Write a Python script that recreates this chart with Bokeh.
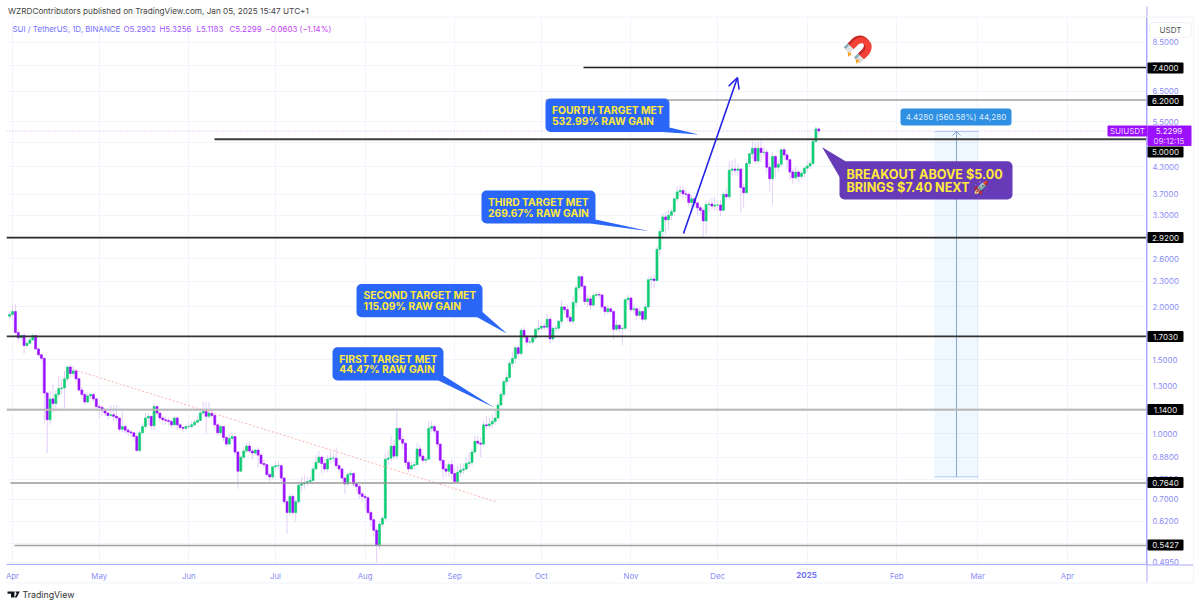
from math import exp, log
from bokeh.plotting import figure
from bokeh.layouts import column
from bokeh.embed import file_html
from bokeh.resources import INLINE
from bokeh.models import (ColumnDataSource, FixedTicker, NumeralTickFormatter, Label, BoxAnnotation,
                          PolyAnnotation, Range1d, Arrow, OpenHead)

month_ticks = [0, 30, 61, 91, 122, 153, 183, 214, 244, 275, 306, 334, 365]
month_labels = ["Apr", "May", "Jun", "Jul", "Aug", "Sep", "Oct", "Nov", "Dec", "2025", "Feb", "Mar", "Apr"]
price_ticks = [8.5, 7.5, 6.5, 5.5, 4.9, 4.3, 3.7, 3.3, 2.9, 2.6, 2.3, 2.0, 1.7, 1.5, 1.3, 1.15, 1.0, 0.88, 0.78, 0.7, 0.62, 0.55, 0.495]

first_open = 1.90
closes = [1.92,1.95,1.74,1.69,1.71,1.62,1.64,1.67,1.71,1.59,1.54,1.51,1.25,1.08,1.21,1.18,1.24,1.28,1.285,1.35,
 1.44,1.39,1.41,1.35,1.27,1.24,1.19,1.23,1.24,1.21,1.16,1.155,1.135,1.12,1.105,1.11,1.10,1.09,1.025,1.04,
 1.02,1.01,1.005,0.985,0.913,1.005,1.04,1.09,1.10,1.045,1.16,1.12,1.09,1.08,1.075,1.07,1.05,1.09,1.05,1.035,
 1.03,1.04,1.04,1.05,1.065,1.075,1.12,1.13,1.10,1.12,1.105,1.05,1.005,1.04,0.98,0.945,0.975,0.985,0.905,0.815,
 0.88,0.91,0.935,0.91,0.90,0.915,0.89,0.85,0.845,0.80,0.79,0.835,0.84,0.84,0.785,0.69,0.65,0.71,0.65,0.69,
 0.755,0.76,0.765,0.77,0.775,0.825,0.855,0.88,0.85,0.825,0.87,0.875,0.875,0.84,0.825,0.785,0.76,0.80,0.805,0.76,
 0.75,0.72,0.71,0.705,0.65,0.625,0.59,0.545,0.61,0.63,0.87,0.875,0.935,0.885,1.03,0.97,0.95,0.855,0.825,0.84,
 0.845,0.92,0.885,0.865,0.87,1.03,1.04,1.015,0.945,0.865,0.825,0.815,0.845,0.805,0.77,0.81,0.82,0.825,0.85,0.855,
 0.905,0.96,0.95,0.945,1.05,1.045,1.055,1.07,1.09,1.17,1.24,1.33,1.36,1.47,1.51,1.60,1.55,1.76,1.70,1.65,
 1.65,1.69,1.77,1.78,1.80,1.79,1.87,1.68,1.78,1.78,1.85,2.00,1.97,1.89,1.85,2.05,2.22,2.36,2.24,2.06,
 2.09,2.02,2.13,2.14,2.135,2.00,1.95,1.98,1.95,1.77,1.81,1.775,1.78,2.08,2.10,1.97,1.98,1.91,1.95,1.87,
 2.00,2.32,2.33,2.31,2.74,3.02,3.27,3.22,3.30,3.37,3.61,3.75,3.78,3.71,3.70,3.54,3.61,3.53,3.44,3.39,
 3.20,3.50,3.51,3.47,3.49,3.49,3.39,3.70,3.65,4.22,4.25,4.22,4.25,3.84,3.73,4.38,4.62,4.76,4.44,4.76,
 4.65,4.66,4.29,4.03,4.55,4.29,4.36,4.72,4.59,4.47,4.18,4.05,4.18,4.08,4.15,4.27,4.32,4.38,4.94,5.2902,5.2299]
highs = [1.95,2.02,2.03,1.77,1.72,1.73,1.66,1.69,1.73,1.72,1.60,1.55,1.52,1.26,1.27,1.31,1.27,1.37,1.35,1.41,
 1.45,1.46,1.45,1.42,1.36,1.29,1.25,1.25,1.25,1.25,1.22,1.18,1.17,1.15,1.13,1.17,1.17,1.17,1.09,1.13,
 1.05,1.03,1.02,1.01,1.00,1.02,1.06,1.12,1.12,1.10,1.18,1.17,1.13,1.10,1.10,1.09,1.08,1.10,1.10,1.06,
 1.04,1.05,1.06,1.07,1.08,1.10,1.15,1.19,1.19,1.19,1.14,1.11,1.06,1.05,1.04,0.99,1.00,1.00,0.99,0.91,
 0.89,0.93,0.95,0.96,0.92,0.92,0.93,0.90,0.87,0.85,0.81,0.84,0.86,0.86,0.85,0.79,0.70,0.72,0.72,0.70,
 0.77,0.79,0.80,0.79,0.79,0.84,0.89,0.91,0.89,0.87,0.89,0.91,0.90,0.93,0.85,0.83,0.79,0.81,0.82,0.81,
 0.77,0.76,0.73,0.72,0.71,0.66,0.63,0.60,0.62,0.64,0.90,0.91,0.99,0.97,1.13,1.03,0.99,0.95,0.87,0.86,
 0.86,0.95,0.94,0.90,0.88,1.07,1.07,1.05,1.02,0.95,0.87,0.85,0.86,0.87,0.83,0.84,0.85,0.85,0.88,0.90,
 0.92,0.99,0.99,0.98,1.07,1.10,1.09,1.11,1.14,1.19,1.26,1.35,1.40,1.49,1.56,1.62,1.62,1.78,1.79,1.72,
 1.68,1.70,1.78,1.86,1.84,1.83,1.93,1.89,1.80,1.81,1.86,2.07,2.01,2.02,1.92,2.12,2.26,2.38,2.37,2.26,
 2.14,2.13,2.16,2.17,2.17,2.15,2.02,2.02,1.99,1.96,1.86,1.82,1.80,2.10,2.14,2.11,2.03,2.00,2.00,1.96,
 2.03,2.35,2.38,2.39,2.78,3.08,3.34,3.37,3.40,3.42,3.65,3.87,3.89,3.87,3.82,3.76,3.68,3.64,3.56,3.49,
 3.45,3.58,3.60,3.64,3.65,3.56,3.58,3.75,3.82,4.44,4.46,4.50,4.38,4.26,3.92,4.45,4.65,4.95,4.90,4.93,
 4.96,4.80,4.72,4.40,4.68,4.60,4.45,4.76,4.78,4.65,4.48,4.25,4.30,4.22,4.22,4.30,4.45,4.46,5.02,5.37,5.3256]
lows = [1.87,1.89,1.72,1.65,1.67,1.55,1.60,1.63,1.66,1.58,1.52,1.49,1.06,0.90,1.05,1.12,1.13,1.22,1.24,1.15,
 1.33,1.36,1.37,1.33,1.26,1.21,1.17,1.18,1.21,1.19,1.13,1.09,1.10,1.10,1.08,1.09,1.07,1.07,1.01,1.01,
 1.00,0.99,0.98,0.96,0.905,0.905,1.00,1.03,1.05,1.02,1.02,1.10,1.07,1.05,1.05,1.05,1.03,1.04,1.02,1.02,
 1.01,1.02,1.03,1.03,1.04,1.06,1.07,1.11,1.00,1.09,1.09,1.02,0.99,0.99,0.96,0.93,0.94,0.96,0.89,0.74,
 0.81,0.87,0.90,0.90,0.87,0.89,0.83,0.84,0.83,0.79,0.77,0.78,0.82,0.82,0.77,0.68,0.58,0.64,0.64,0.62,
 0.68,0.73,0.74,0.75,0.76,0.77,0.82,0.85,0.80,0.81,0.81,0.85,0.86,0.83,0.81,0.77,0.72,0.75,0.79,0.75,
 0.73,0.70,0.69,0.66,0.64,0.60,0.57,0.495,0.53,0.60,0.62,0.84,0.86,0.87,0.87,0.96,0.92,0.84,0.81,0.82,
 0.82,0.84,0.87,0.85,0.85,0.87,1.01,1.00,0.93,0.85,0.78,0.79,0.79,0.78,0.76,0.76,0.79,0.80,0.82,0.83,
 0.84,0.90,0.94,0.88,0.94,1.02,1.03,1.03,1.05,1.08,1.16,1.22,1.30,1.35,1.44,1.47,1.52,1.53,1.68,1.62,
 1.63,1.63,1.67,1.74,1.76,1.76,1.76,1.63,1.66,1.75,1.76,1.82,1.93,1.85,1.83,1.82,2.00,2.19,2.20,2.02,
 2.00,1.97,2.00,2.10,2.09,1.97,1.90,1.92,1.93,1.67,1.75,1.74,1.62,1.76,2.02,1.94,1.93,1.86,1.88,1.84,
 1.85,1.97,2.22,2.21,2.30,2.65,2.90,2.97,3.04,3.21,3.30,3.55,3.65,3.60,3.62,3.46,3.44,3.45,3.29,3.30,
 2.92,2.97,3.35,3.40,3.38,3.39,3.29,3.38,3.58,3.60,4.10,4.12,4.10,3.35,3.44,3.72,4.30,4.49,4.36,4.40,
 4.40,4.52,4.16,3.75,3.50,4.05,4.18,4.30,4.46,4.25,4.00,3.92,4.00,3.95,4.02,4.05,4.20,4.25,4.35,4.90,5.1183]

levels = [7.4, 6.2, 5.0, 2.92, 1.703, 1.14, 0.764, 0.5427]
level_labels = ["7.4000", "6.2000", "5.0000", "2.9200", "1.7030", "1.1400", "0.7640", "0.5427"]
level_starts = [583, 545, 214, 6, 6, 6, 10, 14]
level_colors = ["#1c1c1c", "#b8b8b8", "#3c3c3c", "#2a2a2a", "#333333", "#b8b8b8", "#999999", "#a0a0a0"]
level_widths = [1.5, 2, 1.8, 1.6, 1.6, 2, 1.5, 1.5]
level_badge_y = [67.5, 100, 151.5, 237, 336, 409, 482, 544.5]

measure_low = 0.79
measure_high = 5.218
last_close = 5.2299

GREEN = "#0fcd74"; PURPLE = "#9b10ff"; WICK = "#e3cff9"; BLUE = "#2a66f7"; YELLOW = "#ffe93b"; GRID = "#f1f4fb"
AXIS_TXT = "#8a8cf8"; AXIS_LINE = "#a9a9ff"
W, H = 1196, 600

def X(px): return (px - 12) / 2.89
def Y(py): return 7.4 * exp(-(py - 67) / 183)

idx = list(range(-1, len(closes) - 1))
opens = [first_open] + closes[:-1]
colors = [GREEN if c >= o else PURPLE for o, c in zip(opens, closes)]
src = ColumnDataSource(dict(x=idx, o=opens, c=closes, h=highs, l=lows, color=colors,
                            top=[max(a, b) for a, b in zip(opens, closes)],
                            bot=[min(a, b) for a, b in zip(opens, closes)]))

p = figure(width=W, height=H, output_backend="svg", toolbar_location=None,
           y_axis_type="log", y_axis_location="right",
           x_range=Range1d(X(6), X(1146)), y_range=Range1d(Y(564), Y(17)),
           min_border_top=17, min_border_bottom=36, min_border_left=6, min_border_right=50,
           background_fill_color="white", border_fill_color="white", outline_line_color=None)
p.frame_align = False

# transparent sheet over the whole page, in pixel coordinates, for everything drawn outside the plot frame
q = figure(width=W, height=H, output_backend="svg", toolbar_location=None,
           x_axis_location=None, y_axis_location=None,
           x_range=Range1d(0, W), y_range=Range1d(H, 0),
           min_border=0, background_fill_color=None, border_fill_color=None, outline_line_color=None)
q.grid.visible = False
q.margin = (-H, 0, 0, 0)
q.frame_align = False

p.xaxis.ticker = FixedTicker(ticks=month_ticks)
p.xaxis.major_label_overrides = {t: ("" if s == "2025" else s) for t, s in zip(month_ticks, month_labels)}
p.yaxis.ticker = FixedTicker(ticks=price_ticks, minor_ticks=[])
p.yaxis.formatter = NumeralTickFormatter(format="0.0000")
for ax in (p.xaxis[0], p.yaxis[0]):
    ax.axis_line_color = AXIS_LINE
    ax.axis_line_width = 1
    ax.major_tick_line_color = None
    ax.minor_tick_line_color = None
    ax.major_label_text_color = AXIS_TXT
    ax.major_label_text_font = "Inter"
    ax.major_label_text_font_size = "7.8px"
p.xaxis.major_label_standoff = 0
p.yaxis.major_label_standoff = 0
p.xgrid.ticker = FixedTicker(ticks=month_ticks)
p.ygrid.ticker = FixedTicker(ticks=price_ticks)
p.xgrid.grid_line_color = GRID
p.ygrid.grid_line_color = GRID

LEVEL = "annotation"

def box(l, r, t, b, fill, radius=0, line=None, alpha=1.0):
    q.add_layout(BoxAnnotation(left=l, right=r, top=t, bottom=b, fill_color=fill, fill_alpha=alpha,
                               line_color=line, line_alpha=1.0 if line else 0, border_radius=radius, level=LEVEL, editable=False))

def label(px, py, text, color, size, bold=False, align="left", font="Inter", angle=0):
    q.add_layout(Label(x=px, y=py, text=text, text_color=color, text_font=font, text_font_size=f"{size}px",
                       text_font_style="bold" if bold else "normal", text_align=align, text_baseline="middle",
                       angle=angle, angle_units="deg", level=LEVEL))

def poly(pts, fill):
    q.add_layout(PolyAnnotation(xs=[a for a, b in pts], ys=[b for a, b in pts], fill_color=fill, fill_alpha=1,
                                line_color=None, level=LEVEL, editable=False))

# measurement box
p.quad(left=[X(934)], right=[X(978)], top=[measure_high], bottom=[measure_low], fill_color="#2196f3", fill_alpha=0.07, line_color=None)
p.segment(x0=[X(934), X(934)], x1=[X(978), X(978)], y0=[measure_high, measure_low], y1=[measure_high, measure_low], line_color="#a6cdf5", line_width=1)
p.segment(x0=[X(956)], x1=[X(956)], y0=[measure_low], y1=[measure_high], line_color="#8aa8cf", line_width=1)
p.line([X(952), X(956), X(960)], [Y(135), measure_high, Y(135)], line_color="#8aa8cf", line_width=1)

# candles
p.segment("x", "l", "x", "h", source=src, line_color=WICK, line_width=1)
p.vbar("x", width=0.7, top="top", bottom="bot", source=src, fill_color="color", line_color="color", line_width=0.6)

# last-price line, trend line, levels
p.segment(x0=[X(6)], x1=[X(1146)], y0=[last_close], y1=[last_close], line_color="#dca8f5", line_width=1, line_dash="1 2")
p.segment(x0=[X(73)], x1=[X(495)], y0=[Y(369)], y1=[Y(501)], line_color="#ffb0b0", line_width=1, line_dash="2 2")
for lv, st, col, w in zip(levels, level_starts, level_colors, level_widths):
    p.segment(x0=[X(st)], x1=[X(1146)], y0=[lv], y1=[lv], line_color=col, line_width=w)

# blue arrow
p.add_layout(Arrow(end=OpenHead(line_color="#2323e6", line_width=1.5, size=11), x_start=X(683), y_start=Y(233),
                   x_end=X(737), y_end=Y(77), line_color="#2323e6", line_width=1.6))

# callouts
callouts = [
    (545, 669, 98, 131.5, [(669, 127), (698, 134), (662, 131.5)], "FOURTH TARGET MET", "532.99% RAW GAIN", 551.5, 109, 120),
    (481, 595, 190, 223, [(595, 219), (649, 230.7), (590, 223)], "THIRD TARGET MET", "269.67% RAW GAIN", 487.5, 201.5, 212),
    (356, 482, 283.5, 316.7, [(482, 311.5), (506.7, 333.3), (476.7, 316.7)], "SECOND TARGET MET", "115.09% RAW GAIN", 363, 294.5, 305),
    (332, 443, 346.7, 380, [(443, 375), (494, 407.3), (438, 380)], "FIRST TARGET MET", "44.47% RAW GAIN", 338.7, 358, 368.5),
]
for l, r, t, b, tail, t1, t2, tx, y1, y2 in callouts:
    box(l, r, t, b, BLUE, radius=5)
    poly(tail, BLUE)
    label(tx, y1, t1, YELLOW, 10.3, bold=True)
    label(tx, y2, t2, YELLOW, 10.3, bold=True)

box(839, 1012, 160.7, 199, "#673ab7", radius=5)
poly([(821.7, 146.7), (845, 160.7), (839.3, 177)], "#673ab7")
label(846, 173.5, "BREAKOUT ABOVE $5.00", YELLOW, 12.6, bold=True)
label(846, 186.5, "BRINGS $7.40 NEXT 🚀", YELLOW, 12.6, bold=True)

label(860, 47, "🧲", "#bc1a32", 21, align="center", angle=-135)
poly([(847, 51), (849, 52.5), (851, 51.5), (850, 53.5), (851.5, 55), (849, 54.7), (847.5, 56.5), (847.5, 54)], "#f7a11b")
poly([(855, 58), (857, 59.5), (859, 58.5), (858, 60.5), (859.5, 62), (857, 61.7), (855.5, 63.5), (855.5, 61)], "#f7a11b")

# measurement label
box(900, 1011, 108, 125, "#2f8fe3", radius=3)
label(955.5, 116.5, "4.4280 (560.58%) 44,280", "#dbeeff", 8.1, align="center")

# frame extensions outside the plotting area
box(1146, 1147, 6, 582, AXIS_LINE)
box(1146, 1193, 564, 565, AXIS_LINE)
box(6, 1193, 16, 17, GRID)
box(6, 1193, 582, 583, GRID)
box(1192.5, 1193.5, 16, 583, GRID)

# bold year label on the time axis
label(806, 574.5, "2025", "#6f70f2", 8, bold=True, align="center")

# price badges
for lv, lab, by in zip(levels, level_labels, level_badge_y):
    box(1147, 1183, by - 5.5, by + 5.5, "#000000", radius=1)
    label(1165, by, lab, "#e8e8e8", 8, align="center")
box(1107, 1147, 125, 136, PURPLE, radius=1)
box(1147, 1191, 125, 145.5, PURPLE, radius=1)
label(1127, 130.5, "SUIUSDT", "#ecd4ff", 8, align="center")
label(1168.5, 130.5, "5.2299", "#f4e6ff", 8, align="center")
label(1168.5, 140, "09:12:15", "#e6c8ff", 8, align="center")
box(1149, 1191, 22, 37, "#ffffff", radius=4, line="#f0f2f8")
label(1170, 29, "USDT", "#555555", 8, align="center")

# header text
label(7.5, 10.5, "WZRDContributors published on TradingView.com, Jan 05, 2025 15:47 UTC+1", "#444444", 8.2)
for tx, txt, col in [(12, "SUI / TetherUS, 1D, BINANCE", "#7272ff"), (123, "O5.2902", "#8c62ff"), (159, "H5.3256", "#a058ff"),
                     (196, "L5.1183", "#ae50ff"), (229, "C5.2299", "#ba48ff"), (265, "−0.0603 (−1.14%)", "#c742f5")]:
    label(tx, 28, txt, col, 7.9)

# TradingView logo
poly([(7, 591), (14, 591), (14, 597), (10.5, 597), (10.5, 593.3), (7, 593.3)], "#131722")
poly([(14.6, 591), (19.3, 591), (16.2, 597), (14.2, 597), (16.2, 593)], "#131722")
label(22, 594, "TradingView", "#333333", 8.8)

open("out.html", "w").write(file_html(column(p, q), INLINE))
